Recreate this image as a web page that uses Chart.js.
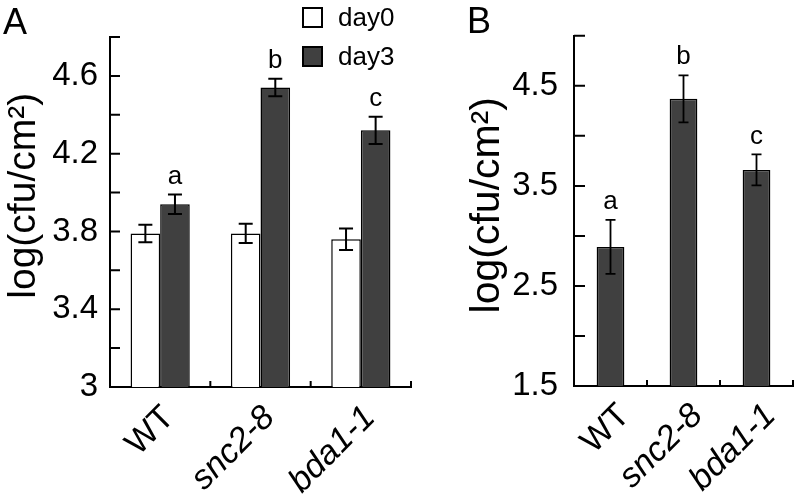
<!DOCTYPE html>
<html lang="en">
<head>
  <meta charset="UTF-8">
  <title>log(cfu/cm2) - day0 / day3</title>
  <script src="https://cdn.jsdelivr.net/npm/chart.js"></script>
  <style>
    html, body { margin: 0; padding: 0; background: #fff; }
    #wrap { position: relative; width: 797px; height: 502px; }
    #chartA { position: absolute; left: 0; top: 0; }
    #chartB { position: absolute; left: 420px; top: 0; }
  </style>
</head>
<body>
<div id="wrap">
  <canvas id="chartA" width="420" height="502"></canvas>
  <canvas id="chartB" width="377" height="502"></canvas>
</div>
<script>
  // genotypes on the x axis (both panels)
  const genotypes = ['WT', 'snc2-8', 'bda1-1'];

  // panel A: day0 vs day3
  const day0Mean = [3.79, 3.79, 3.76];
  const day0Err  = [0.045, 0.05, 0.055];
  const day3Mean = [3.94, 4.54, 4.32];
  const day3Err  = [0.05, 0.045, 0.07];
  const lettersA = ['a', 'b', 'c'];

  // panel B
  const meanB = [2.89, 4.37, 3.66];
  const errB  = [0.27, 0.235, 0.155];
  const lettersB = ['a', 'b', 'c'];

  // y axes: range, step of tick marks, which ticks get a label
  const yMinA = 3, yMaxA = 4.8, yStepA = 0.2;
  const yLabelsA = ['3', '3.4', '3.8', '4.2', '4.6'];
  const yMinB = 1.5, yMaxB = 5.0, yStepB = 0.5;
  const yLabelsB = ['1.5', '2.5', '3.5', '4.5'];

  const FONT = 'Liberation Sans, Arial, Helvetica, sans-serif';
  Chart.defaults.font.family = FONT;
  Chart.defaults.color = '#000';

  function labelFilter(list) {
    return function (v) {
      const s = String(Math.round(v * 10) / 10);
      return list.includes(s) ? s : '';
    };
  }

  // tick marks pointing into the plot area
  const innerTicks = {
    id: 'innerTicks',
    afterDraw(chart, args, opts) {
      const { ctx, chartArea: a, scales: { x, y } } = chart;
      ctx.save();
      ctx.strokeStyle = '#000';
      ctx.lineWidth = opts.width;
      ctx.beginPath();
      y.ticks.forEach(t => {
        const py = y.getPixelForValue(t.value);
        ctx.moveTo(a.left, py);
        ctx.lineTo(a.left + opts.yLen, py);
      });
      const n = x.ticks.length;
      for (let i = 1; i <= n; i++) {
        const px = i < n ? (x.getPixelForValue(i - 1) + x.getPixelForValue(i)) / 2 : a.right;
        ctx.moveTo(px, a.bottom);
        ctx.lineTo(px, a.bottom - opts.xLen);
      }
      ctx.stroke();
      ctx.restore();
    }
  };

  // error bars + significance letters
  const errorBars = {
    id: 'errorBars',
    afterDatasetsDraw(chart, args, opts) {
      const { ctx, scales: { y } } = chart;
      ctx.save();
      ctx.strokeStyle = '#000';
      ctx.fillStyle = '#000';
      ctx.lineWidth = opts.width;
      ctx.font = opts.letterSize + 'px ' + FONT;
      ctx.textAlign = 'center';
      ctx.textBaseline = 'bottom';
      chart.data.datasets.forEach((ds, di) => {
        const meta = chart.getDatasetMeta(di);
        meta.data.forEach((bar, i) => {
          const e = opts.errors[di][i];
          const yt = y.getPixelForValue(ds.data[i] + e);
          const yb = y.getPixelForValue(ds.data[i] - e);
          ctx.beginPath();
          ctx.moveTo(bar.x, yt); ctx.lineTo(bar.x, yb);
          ctx.moveTo(bar.x - opts.cap, yt); ctx.lineTo(bar.x + opts.cap, yt);
          ctx.moveTo(bar.x - opts.cap, yb); ctx.lineTo(bar.x + opts.cap, yb);
          ctx.stroke();
          const letters = opts.letters[di];
          if (letters) ctx.fillText(letters[i], bar.x, yt - opts.gap);
        });
      });
      ctx.restore();
    }
  };

  // stacked box legend + panel letter
  const decor = {
    id: 'decor',
    afterDraw(chart, args, opts) {
      const ctx = chart.ctx;
      ctx.save();
      ctx.fillStyle = '#000';
      ctx.textBaseline = 'top';
      ctx.textAlign = 'left';
      ctx.font = opts.panelSize + 'px ' + FONT;
      ctx.fillText(opts.panel, opts.panelX, opts.panelY);
      if (opts.legend) {
        const L = opts.legend;
        ctx.font = L.size + 'px ' + FONT;
        ctx.textBaseline = 'middle';
        chart.data.datasets.forEach((ds, i) => {
          const top = L.top + i * L.step;
          ctx.fillStyle = ds.backgroundColor;
          ctx.fillRect(L.left, top, L.box, L.box);
          ctx.strokeStyle = '#000';
          ctx.lineWidth = 2;
          ctx.strokeRect(L.left, top, L.box, L.box);
          ctx.fillStyle = '#000';
          ctx.fillText(ds.label, L.left + L.box + L.gap, top + L.box / 2 + 1);
        });
      }
      ctx.restore();
    }
  };

  function xScale(h, pad, shift) {
    return {
      offset: true,
      ticks: {
        minRotation: 45, maxRotation: 45, padding: pad, labelOffset: shift, autoSkip: false,
        color: '#000',
        font: c => ({ family: FONT, size: 34, style: c.index > 0 ? 'italic' : 'normal' })
      },
      grid: { drawOnChartArea: false, drawTicks: false },
      border: { color: '#000', width: 2 },
      afterFit(s) { s.height = h; }
    };
  }

  function yScale(min, max, step, labels, w, pad, title, titleSize, titlePad) {
    return {
      min: min, max: max,
      ticks: { stepSize: step, autoSkip: false, padding: pad, color: '#000',
               font: { size: 33 }, callback: labelFilter(labels) },
      grid: { drawOnChartArea: false, drawTicks: false },
      border: { color: '#000', width: 2 },
      title: { display: true, text: title, color: '#000',
               font: { size: titleSize }, padding: { top: titlePad, bottom: 0 } },
      afterFit(s) { s.width = w; }
    };
  }

  new Chart(document.getElementById('chartA'), {
    type: 'bar',
    data: {
      labels: genotypes,
      datasets: [
        { label: 'day0', data: day0Mean, backgroundColor: '#ffffff', borderColor: '#000', borderWidth: 1.5, borderSkipped: false },
        { label: 'day3', data: day3Mean, backgroundColor: '#404040', borderColor: '#000', borderWidth: 1.5, borderSkipped: false }
      ]
    },
    options: {
      responsive: false, animation: false, devicePixelRatio: 1,
      layout: { padding: { top: 37, right: 9, left: 0, bottom: 0 } },
      datasets: { bar: { categoryPercentage: 0.59, barPercentage: 1 } },
      scales: {
        x: xScale(115, 11, 9),
        y: yScale(yMinA, yMaxA, yStepA, yLabelsA, 110, 12, '\u00a0\u00a0\u00a0log(cfu/cm\u00b2)', 39, 1)
      },
      plugins: {
        legend: { display: false },
        tooltip: { enabled: false },
        innerTicks: { width: 2, yLen: 10, xLen: 6 },
        errorBars: { errors: [day0Err, day3Err], letters: [null, lettersA], width: 2, cap: 7, gap: 5, letterSize: 26 },
        decor: { panel: 'A', panelX: 3, panelY: 6, panelSize: 36,
                 legend: { left: 303, top: 8, step: 39, box: 19, gap: 16, size: 26 } }
      }
    },
    plugins: [innerTicks, errorBars, decor]
  });

  new Chart(document.getElementById('chartB'), {
    type: 'bar',
    data: {
      labels: genotypes,
      datasets: [
        { label: 'day3', data: meanB, backgroundColor: '#404040', borderColor: '#000', borderWidth: 1.5, borderSkipped: false }
      ]
    },
    options: {
      responsive: false, animation: false, devicePixelRatio: 1,
      layout: { padding: { top: 35, right: 4, left: 0, bottom: 0 } },
      datasets: { bar: { categoryPercentage: 0.38, barPercentage: 1 } },
      scales: {
        x: xScale(116, 10, 14),
        y: yScale(yMinB, yMaxB, yStepB, yLabelsB, 154, 16, '\u00a0log(cfu/cm\u00b2)', 41, 43)
      },
      plugins: {
        legend: { display: false },
        tooltip: { enabled: false },
        innerTicks: { width: 2, yLen: 11, xLen: 6 },
        errorBars: { errors: [errB], letters: [lettersB], width: 1.8, cap: 5, gap: 5, letterSize: 26 },
        decor: { panel: 'B', panelX: 47, panelY: 5, panelSize: 36 }
      }
    },
    plugins: [innerTicks, errorBars, decor]
  });
</script>
</body>
</html>
